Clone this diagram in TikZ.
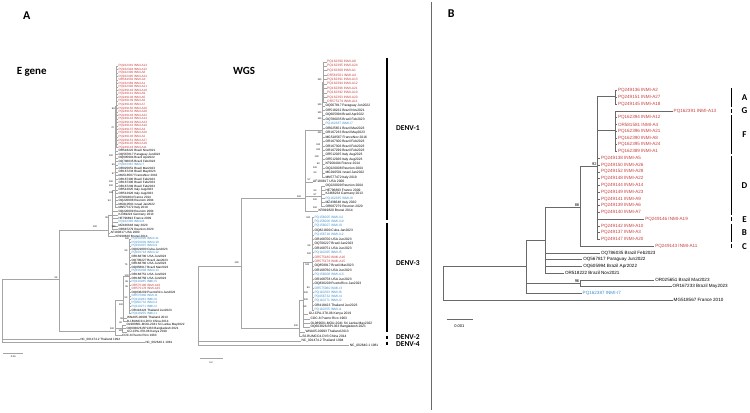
\documentclass[tikz,border=0pt]{standalone}
\usepackage{fontspec}
\setmainfont{Liberation Sans}
\newfontfamily\headfont{Carlito}
\usetikzlibrary{positioning}

\definecolor{inmired}{RGB}{196,62,62}
\definecolor{inmiblue}{RGB}{60,140,200}
\definecolor{treeA}{RGB}{165,165,165}
\definecolor{treeB}{RGB}{105,105,105}

\begin{document}
\begin{tikzpicture}[x=1bp,y=-1bp,
  brA/.style={draw=treeA,line width=0.35bp},
  brB/.style={draw=treeB,line width=0.6bp},
  leafE/.style={anchor=west,inner sep=0.3bp,font=\fontsize{3.1}{3.1}\selectfont},
  leafW/.style={anchor=west,inner sep=0.3bp,font=\fontsize{3.3}{3.3}\selectfont},
  leafB/.style={anchor=west,inner sep=0.8bp,font=\fontsize{4.6}{4.6}\selectfont},
  bs/.style={inner sep=0.2bp,font=\fontsize{2.4}{2.4}\selectfont},
  bsB/.style={inner sep=0.6bp,font=\fontsize{4}{4}\selectfont},
  panel/.style={font=\headfont\bfseries\fontsize{12}{12}\selectfont},
  treename/.style={font=\headfont\bfseries\fontsize{11}{11}\selectfont},
  denv/.style={anchor=west,inner sep=0pt,font=\headfont\bfseries\fontsize{7.5}{7.5}\selectfont},
  grp/.style={font=\headfont\bfseries\fontsize{9}{9}\selectfont},
  cladebar/.style={line width=1.2bp},
]
\useasboundingbox (0,0) rectangle (750,412);

% headings
\node[panel] (pA) at (26.7,16) {A};
\node[treename] (tE) at (31.7,72) {E gene};
\node[treename] (tW) at (244,71) {WGS};
\node[panel] (pB) at (451.3,14) {B};
\draw[draw=treeB,line width=0.8bp] (431,1.7) -- (431,410);

% ---------- E gene tree ----------
\coordinate (eroot) at (1.7,300);
\coordinate (e99) at (59,279.3);
\coordinate (ed1) at (108.3,230);
\coordinate (ea) at (112,215);
\coordinate (eb) at (115,190);
\coordinate (ec) at (116.5,106);
\coordinate (ed3) at (115,331);
\coordinate (ee) at (123,300);
\coordinate (ef) at (122.5,328.3);
\coordinate (eh) at (129,276);

\draw[brA] (eroot) |- (e99);
\draw[brA] (e99) |- (ed1);
\draw[brA] (e99) |- (ed3);
\draw[brA] (ed1) |- (ea);
\draw[brA] (ea) |- (eb);
\draw[brA] (eb) |- (ec);
\draw[brA] (ed3) |- (ee);
\draw[brA] (ed3) |- (ef);
\draw[brA] (ee) |- (eh);

\foreach \nm [count=\i] in {PQ162391 INMI-A13, PQ162394 INMI-A12, PQ162390 INMI-A8,
  PQ162395 INMI-A24, OR581581 INMI-A4, PQ162389 INMI-A1, PQ162396 INMI-A21,
  PQ249146 INMI-A19, PQ249141 INMI-A9, PQ249138 INMI-A5, PQ249139 INMI-A6,
  PQ249140 INMI-A7, PQ249150 INMI-A26, PQ249152 INMI-A28, PQ249148 INMI-A22,
  PQ249144 INMI-A14, PQ249149 INMI-A23, PQ249142 INMI-A10, PQ249137 INMI-A3,
  PQ249147 INMI-A20, PQ249136 INMI-A2, PQ249151 INMI-A27, PQ249145 INMI-A18,
  PQ249143 INMI-A11} {
  \node[leafE,text=inmired] (er\i) at (118,{65.7+3.55*(\i-1)}) {\nm};
  \draw[brA] (ec) |- (er\i.west);
}
\foreach \nm/\clr [count=\i] in {OR518222 Brazil Nov2021/black, OQ567817 Paraguay Jun2022/black,
  OQ605994 Brazil Apr2022/black, OQ786035 Brazil Feb2023/black, PQ162387 INMI-I7/inmiblue,
  OR025651 Brazil Mar2023/black, OR167233 Brazil May2023/black, MG518567 FranceNov 2016/black,
  OR167300 Brazil Feb2023/black, OR167306 Brazil Feb2023/black, OR167299 Brazil Feb2023/black,
  OR512025 Italy Aug2023/black, OR512926 Italy Aug2023/black, KF900404 France 2014/black,
  OQ220008 Reunion 2004/black, MG910501 Israel Jan2022/black, MN577472 Italy 2019/black} {
  \node[leafE,text=\clr] (eb\i) at (118,{150.7+3.56*(\i-1)}) {\nm};
  \draw[brA] (eb) |- (eb\i.west);
}
\foreach \nm/\clr [count=\i] in {OQ220009 Reunion 2004/black, KJ469224 Germany 2013/black,
  HE796893 France 2009/black, PQ162385 INMI-I8/inmiblue, MZ436648 Italy 2020/black,
  OR687279 Reunion 2020/black} {
  \node[leafE,text=\clr] (ea\i) at (118,{211.3+3.6*(\i-1)}) {\nm};
  \draw[brA] (ea) |- (ea\i.west);
}
\node[leafE] (eusa) at (110,232.7) {AF180817 USA 2000};
\node[leafE] (ebru) at (115,236) {KR919820 Brunei 2014};
\draw[brA] (ed1) |- (eusa.west);
\draw[brA] (ed1) |- (ebru.west);

\foreach \nm/\clr [count=\i] in {PQ156005 INMI-I11/inmiblue, PQ156006 INMI-I10/inmiblue,
  PQ156007 INMI-I9/inmiblue, OQ821800 Cuba Jan2023/black, PQ156718 INMI-I12/inmiblue,
  OR168700 USA Jun2023/black, OQ706227 Brazil Jan2023/black, OR168760 USA Jun2023/black,
  OQ858917 Brazil Mar2023/black, PQ156008 INMI-I13/inmiblue, OR168751 USA Jun2023/black,
  OR168758 USA Jun2023/black, PQ110285 INMI-I5/inmiblue, OR575180 INMI-A16/inmired,
  OR575178 INMI-A15/inmired, OQ836209 PuertoRico Jan2023/black, OR575960 INMI-I3/inmiblue,
  PQ110283 INMI-I6/inmiblue, PQ056732 INMI-I4/inmiblue, PQ110271 INMI-I2/inmiblue,
  OR418423 Thailand Jun2023/black, PQ110255 INMI-I1/inmiblue} {
  \node[leafE,text=\clr] (eh\i) at (131,{239+3.55*(\i-1)}) {\nm};
  \draw[brA] (eh) |- (eh\i.west);
}
\node[leafE] (ethai) at (126.7,317.7) {WNA05-00993 Thailand 2013};
\node[leafE] (echin) at (126.7,321.3) {BJ-BUMCC4-DV3 China 2014};
\draw[brA] (ee) |- (ethai.west);
\draw[brA] (ee) |- (echin.west);
\node[leafE] (esri) at (126,325) {OL989601-MOU-2041 Sri Lanka May2022};
\node[leafE] (eban) at (126,328.3) {OQ603826-BPL363 Bangladesh 2021};
\node[leafE] (eken) at (126.7,332) {GU-CPA-378-06 Kenya 2019};
\draw[brA] (ef) |- (esri.west);
\draw[brA] (ef) |- (eban.west);
\draw[brA] (ef) |- (eken.west);
\node[leafE] (epr) at (121.7,335.3) {COC-8 Puerto Rico 1963};
\draw[brA] (ed3) |- (epr.west);
\node[leafE] (enc1) at (80,339.3) {NC\_001474.2 Thailand 1994};
\node[leafE] (enc2) at (145,342.3) {NC\_002640.1 1981};
\draw[brA] (eroot) |- (enc1.west);
\draw[brA] (eroot) |- (enc2.west);

\foreach \x/\y/\v [count=\k] in {113.3/108.3/99, 112.7/127.3/70, 111/156/100, 113.3/165/99,
  113.3/173.3/97, 111/181.7/100, 111/186/100, 111/192.7/100, 109.3/200.7/93, 106.7/217.3/95,
  113.5/226.7/100, 95/226.7/100, 56/277.3/99, 127/239/100, 126/250.7/99, 126/265/75,
  126.7/276/100, 126.7/281.3/98, 126.7/286.7/95, 126/297.3/93, 121/305/100, 121.7/318.3/99,
  120.7/322.3/60, 112/328.3/100, 120.5/331/100} {
  \node[bs] (bsE\k) at (\x,\y) {\v};
}

% scale bar E gene
\draw[draw=treeA,line width=0.4bp] (3.3,352.7) -- (23.3,352.7);
\node[bs] (scE) at (13.3,356.7) {0.05};

% ---------- WGS tree ----------
\coordinate (wroot) at (198.3,300);
\coordinate (wa) at (240.7,266);
\coordinate (wd1) at (305,198.3);
\coordinate (wb) at (322,130);
\coordinate (wr) at (323.5,82);
\coordinate (wc) at (321,196);
\coordinate (wd3) at (299,328.3);
\coordinate (we) at (303,300);
\coordinate (wf) at (312,262);

\draw[brA] (wroot) |- (wa);
\draw[brA] (wa) |- (wd1);
\draw[brA] (wa) |- (wd3);
\draw[brA] (wd1) |- (wb);
\draw[brA] (wb) |- (wr);
\draw[brA] (wd1) |- (wc);
\draw[brA] (wd3) |- (we);
\draw[brA] (we) |- (wf);

\foreach \nm [count=\i] in {PQ162390 INMI-A8, PQ162395 INMI-A24, PQ162389 INMI-A1,
  OR581581 INMI-A4, PQ162391 INMI-A13, PQ162394 INMI-A12, PQ162396 INMI-A21,
  PQ162392 INMI-A10, PQ162393 INMI-A20, OR575179 INMI-A11} {
  \node[leafW,text=inmired] (wr\i) at (326.7,{61.7+4.45*(\i-1)}) {\nm};
  \draw[brA] (wr) |- (wr\i.west);
}
\foreach \nm/\clr [count=\i] in {OQ567817 Paraguay Jun2022/black, OR518222 Brazil Nov2021/black,
  OQ605994 Brazil Apr2022/black, OQ786035 Brazil Feb2023/black, PQ162387 INMI-I7/inmiblue,
  OR025651 Brazil Mar2023/black, OR167233 Brazil May2023/black, MG518567 FranceNov 2016/black,
  OR167300 Brazil Feb2023/black, OR167306 Brazil Feb2023/black, OR167299 Brazil Feb2023/black,
  OR512025 Italy Aug2023/black, OR512926 Italy Aug2023/black, KF900404 France 2014/black,
  OQ220008 Reunion 2004/black, MG910501 Israel Jan2022/black, MN577472 Italy 2019/black} {
  \node[leafW,text=\clr] (wb\i) at (325,{106+4.45*(\i-1)}) {\nm};
  \draw[brA] (wb) |- (wb\i.west);
}
\node[leafW] (wusa) at (312.7,181.7) {AF180817 USA 2000};
\draw[brA] (wd1) |- (wusa.west);
\foreach \nm/\clr [count=\i] in {OQ220009 Reunion 2004/black, HE796893 France 2009/black,
  KJ468234 Germany 2013/black, PQ162385 INMI-I8/inmiblue, MZ436648 Italy 2020/black,
  OR687279 Reunion 2020/black} {
  \node[leafW,text=\clr] (wc\i) at (325,{186+4.07*(\i-1)}) {\nm};
  \draw[brA] (wc) |- (wc\i.west);
}
\node[leafW] (wbru) at (318,210.7) {KR919820 Brunei 2014};
\draw[brA] (wd1) |- (wbru.west);

\foreach \nm/\clr [count=\i] in {PQ156005 INMI-I11/inmiblue, PQ156006 INMI-I10/inmiblue,
  PQ156007 INMI-I9/inmiblue, OQ821800 Cuba Jan2023/black, PQ156718 INMI-I12/inmiblue,
  OR168700 USA Jun2023/black, OQ706227 Brazil Jan2023/black, OR168751 USA Jun2023/black,
  PQ110285 INMI-I5/inmiblue, OR575180 INMI-A16/inmired, OR575178 INMI-A15/inmired,
  OQ858917 Brazil Mar2023/black, OR168760 USA Jun2023/black, PQ156008 INMI-I13/inmiblue,
  OR168758 USA Jun2023/black, OQ836209 PuertoRico Jan2023/black, OR575960 INMI-I3/inmiblue,
  PQ110283 INMI-I6/inmiblue, PQ056732 INMI-I4/inmiblue, PQ110271 INMI-I2/inmiblue,
  OR418423 Thailand Jun2023/black, PQ110255 INMI-I1/inmiblue} {
  \node[leafW,text=\clr] (wf\i) at (314,{217.3+4.41*(\i-1)}) {\nm};
  \draw[brA] (wf) |- (wf\i.west);
}
\foreach \nm/\xx/\yy [count=\i] in {GU-CPA-378-06 Kenya 2019/308.3/314,
  COC-8 Puerto Rico 1963/310/318.7, OL989601-MOU-2041 Sri Lanka May2022/310/323.3,
  OQ603826-BPL363 Bangladesh 2021/310/327} {
  \node[leafW] (we\i) at (\xx,\yy) {\nm};
  \draw[brA] (we) |- (we\i.west);
}
\node[leafW] (wthai) at (305,331.7) {WNA05-00993 Thailand 2013};
\node[leafW] (wchin) at (302,336) {BJ-BUMCC4-DV3 China 2014};
\draw[brA] (wd3) |- (wthai.west);
\draw[brA] (wd3) |- (wchin.west);
\node[leafW] (wnc1) at (301,341) {NC\_001474.2 Thailand 1994};
\node[leafW] (wnc2) at (349.3,345.3) {NC\_002640.1 1981};
\draw[brA] (wroot) |- (wnc1.west);
\draw[brA] (wroot) |- (wnc2.west);

\foreach \x/\y/\v [count=\k] in {319.5/80/100, 319.5/104.3/100, 319.5/112.7/100, 319.5/118.3/100,
  319.5/132.7/100, 318.3/145/100, 318.3/150/100, 316.7/156.7/100, 318.3/163.3/98, 315/167.7/100,
  315/172.7/90, 309/179.3/97, 315/190.7/90, 315/195/97, 315/200/100, 315/207.3/100,
  299/196.3/100, 308.3/217.3/100, 309/246/99, 309/254/100, 307.3/265/100, 308.3/287.7/99,
  306/292.3/100, 306/299.3/100, 305/306.7/99, 296/326/100, 236.7/262.7/100} {
  \node[bs] (bsW\k) at (\x,\y) {\v};
}

% scale bar WGS
\draw[draw=treeA,line width=0.4bp] (200,358.3) -- (223.3,358.3);
\node[bs] (scW) at (211,362.3) {0.2};

% serotype bars
\foreach \t/\b in {58/220, 223/332, 335.5/338.5, 341.5/344.5} {
  \draw[cladebar] (387,\t) -- (387,\b);
}
\node[denv] (dv1) at (396,128) {DENV-1};
\node[denv] (dv3) at (396,263) {DENV-3};
\node[denv] (dv2) at (396,337) {DENV-2};
\node[denv] (dv4) at (396,344) {DENV-4};

% ---------- panel B ----------
\coordinate (bRoot) at (443.3,283.5);
\coordinate[label={[bsB]above left:96}] (b96) at (580,283.3);
\coordinate (bn1) at (526,266.7);
\coordinate (bn2) at (545,240);
\coordinate[label={[bsB]above left:88}] (b88) at (580,207.3);
\coordinate[label={[bsB]above left:92}] (b92) at (597.3,166.7);
\coordinate (bA) at (615.7,96.7);
\coordinate (bF) at (615.7,130);

\draw[brB] (bRoot) |- (bn1);
\draw[brB] (bn1) |- (bn2);
\draw[brB] (bn1) |- (b96);
\draw[brB] (bn2) |- (b88);
\draw[brB] (b88) |- (b92);
\draw[brB] (b92) |- (bA);
\draw[brB] (b92) |- (bF);

\foreach \nm/\xx/\clr/\pa [count=\i] in {
  PQ249136 INMI-A2/617/inmired/bA, PQ249151 INMI-A27/617/inmired/bA,
  PQ249145 INMI-A18/617/inmired/bA, PQ162391 INMI-A13/672.7/inmired/bF,
  PQ162394 INMI-A12/617/inmired/bF, OR581581 INMI-A4/617/inmired/bF,
  PQ162396 INMI-A21/617/inmired/bF, PQ162390 INMI-A8/617/inmired/bF,
  PQ162395 INMI-A24/617/inmired/bF, PQ162389 INMI-A1/617/inmired/bF,
  PQ249138 INMI-A5/600/inmired/b92, PQ249150 INMI-A26/600/inmired/b92,
  PQ249152 INMI-A28/600/inmired/b92, PQ249148 INMI-A22/600/inmired/b92,
  PQ249144 INMI-A14/600/inmired/b92, PQ249149 INMI-A23/600/inmired/b92,
  PQ249141 INMI-A9/600/inmired/b92, PQ249139 INMI-A6/600/inmired/b92,
  PQ249140 INMI-A7/600/inmired/b92, PQ249146 INMI-A19/644.3/inmired/b92,
  PQ249142 INMI-A10/600/inmired/b92, PQ249137 INMI-A3/600/inmired/b92,
  PQ249147 INMI-A20/600/inmired/b92, PQ249143 INMI-A11/654.3/inmired/b88,
  OQ786035 Brazil Feb2023/600/black/bn2, OQ567817 Paraguay Jun2022/582.3/black/bn2,
  OQ605994 Brazil Apr2022/582.3/black/bn2, OR518222 Brazil Nov2021/564/black/bn2,
  OR025651 Brazil Mar2023/654.3/black/b96, OR167233 Brazil May2023/671.7/black/b96,
  PQ162387 INMI-I7/581.7/inmiblue/bn1, MG518567 France 2010/672.7/black/bRoot} {
  \node[leafB,text=\clr] (bl\i) at (\xx,{90.7+6.76*(\i-1)}) {\nm};
  \draw[brB] (\pa) |- (bl\i.west);
}

% genotype bars
\foreach \t/\b/\g in {1/3/A, 4/4/G, 5/10/F, 11/19/D, 20/20/E, 21/23/B, 24/24/C} {
  \draw[cladebar] (731.7,{90.7+6.76*(\t-1)-2.3}) -- (731.7,{90.7+6.76*(\b-1)+2.3});
  \node[grp] (g\g) at (744.5,{90.7+6.76*(\t+\b-2)/2}) {\g};
}

% scale bar B
\draw[draw=treeB,line width=0.6bp] (446.7,319.3) -- (472.7,319.3);
\node[bsB] (scB) at (459.3,326) {0.001};
\end{tikzpicture}
\end{document}
